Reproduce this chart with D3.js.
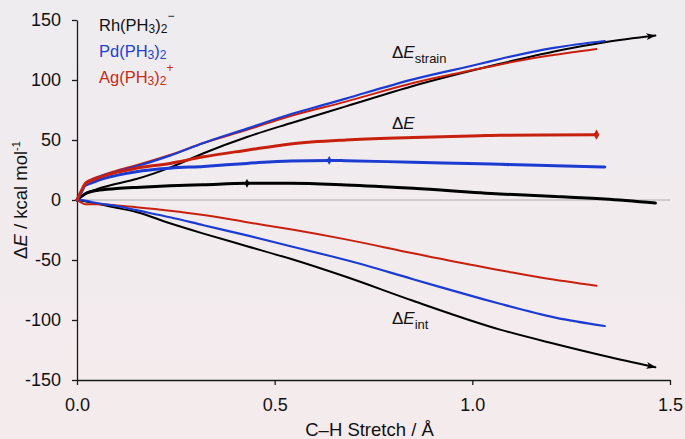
<html>
<head>
<title>C-H Stretch energy decomposition</title>
<script src="https://d3js.org/d3.v7.min.js"></script>
<style>
body { margin: 0; background: #f2ecee; }
text { font-family: "Liberation Sans", Arial, Helvetica, sans-serif; }
</style>
</head>
<body>
<div id="chart"></div>
<script>

// C-H stretch (Angstrom) and energies (kcal/mol)
var rhX      = [0, 0.02, 0.05, 0.1, 0.15, 0.235, 0.32, 0.43, 0.54, 0.68, 0.85, 1.07, 1.21, 1.335, 1.463];
var rhStrain = [0, 5, 9, 13.5, 17.5, 27, 39, 52.5, 64, 78, 95, 113.5, 124, 131.5, 137];
var rhTotal  = [0, 5, 8, 9.5, 10.5, 11.8, 12.7, 13.9, 13.9, 12.5, 9.7, 5, 3, 0.8, -2.5];
var rhInt    = [0, -1, -3, -6.5, -10, -19.4, -28, -38.5, -49, -64, -84, -108, -120, -130, -139.4];

var pdX      = [0, 0.01, 0.02, 0.035, 0.05, 0.1, 0.15, 0.235, 0.32, 0.43, 0.54, 0.638, 0.68, 0.85, 1.02, 1.07, 1.21, 1.335];
var pdStrain = [0, 6, 13, 16, 18.5, 23.5, 28, 37, 47.5, 59.5, 71.5, 80.5, 84.5, 100.5, 113.5, 117.5, 127, 132.5];
var pdTotal  = [0, 6, 12, 14, 16, 20.5, 23.6, 26.5, 28, 30.5, 32.6, 33, 32.8, 31.4, 30.2, 29.7, 28.5, 27.5];
var pdInt    = [0, 0, -0.5, -1.5, -2.5, -5, -8.5, -14.4, -21, -29.5, -38.5, -46.5, -50, -66, -82, -86.5, -98, -105];

var agX      = [0, 0.01, 0.02, 0.035, 0.05, 0.1, 0.15, 0.235, 0.32, 0.43, 0.54, 0.68, 0.85, 1.02, 1.07, 1.18, 1.314];
var agStrain = [0, 7, 14, 17, 19, 24.5, 29, 37.5, 47.5, 58.5, 70, 82, 97.5, 109.5, 113, 119.5, 125.8];
var agTotal  = [0, 7, 13, 16, 18, 23, 26.5, 30.5, 36, 41.5, 46.7, 50, 52, 53.6, 54, 54.2, 54.4];
var agInt    = [0, -2, -3.5, -3.5, -3.5, -4.5, -6, -8.9, -12.5, -18.5, -24.4, -32.8, -44.4, -55.5, -58.5, -65, -71.4];

// diamond markers on the total energy curves [x, y]
var rhMark = [0.43, 13.9];
var pdMark = [0.638, 33];
var agMark = [1.314, 54.4];

var xTicks = [0, 0.5, 1.0, 1.5];
var yTicks = [-150, -100, -50, 0, 50, 100, 150];

var black = "#000000", blue = "#1c3bd0", red = "#c8200e";

var width = 685, height = 439;

var svg = d3.select("#chart").append("svg")
  .attr("width", width)
  .attr("height", height);

var defs = svg.append("defs");
var grad = defs.append("linearGradient")
  .attr("id", "bg")
  .attr("x1", 0).attr("y1", 0).attr("x2", 0).attr("y2", 1);
grad.append("stop").attr("offset", "0%").attr("stop-color", "#eeecef");
grad.append("stop").attr("offset", "100%").attr("stop-color", "#f5ebed");

defs.append("marker")
  .attr("id", "arrow")
  .attr("viewBox", "0 -5 10 10")
  .attr("refX", 9)
  .attr("refY", 0)
  .attr("markerWidth", 5)
  .attr("markerHeight", 5)
  .attr("orient", "auto")
  .append("path")
  .attr("d", "M0,-3.5L10,0L0,3.5L2.5,0Z")
  .attr("fill", black);

svg.append("rect")
  .attr("width", width)
  .attr("height", height)
  .attr("fill", "url(#bg)");

var x = d3.scaleLinear().domain([0, 1.5]).range([77, 670]);
var y = d3.scaleLinear().domain([-150, 150]).range([380, 20]);

// zero line
svg.append("line")
  .attr("x1", x(0)).attr("x2", x(1.5))
  .attr("y1", y(0)).attr("y2", y(0))
  .attr("stroke", "#b0acae")
  .attr("stroke-width", 1);

var xAxis = svg.append("g")
  .attr("transform", "translate(0," + y(-150) + ")")
  .call(d3.axisBottom(x).tickValues(xTicks).tickFormat(d3.format(".1f"))
    .tickSize(5).tickSizeOuter(0).tickPadding(13));

var yAxis = svg.append("g")
  .attr("transform", "translate(" + x(0) + ",0)")
  .call(d3.axisLeft(y).tickValues(yTicks).tickFormat(function(d) { return String(d); })
    .tickSize(5).tickSizeOuter(0).tickPadding(11));

[xAxis, yAxis].forEach(function(g) {
  g.selectAll("path, line").attr("stroke", "#1a1a1a").attr("stroke-width", 1.3);
  g.selectAll("text")
    .attr("fill", "#111")
    .style("font-size", "18px")
    .style("font-family", "'Liberation Sans', Arial, sans-serif");
});

var line = d3.line()
  .x(function(d) { return x(d[0]); })
  .y(function(d) { return y(d[1]); })
  .curve(d3.curveMonotoneX);

function pts(xs, ys) {
  return xs.map(function(v, i) { return [v, ys[i]]; });
}

var series = [
  {x: rhX, v: rhInt,    color: black, w: 2, arrow: true},
  {x: rhX, v: rhStrain, color: black, w: 2, arrow: true},
  {x: rhX, v: rhTotal,  color: black, w: 3, arrow: false},
  {x: agX, v: agInt,    color: red,   w: 2, arrow: false},
  {x: agX, v: agStrain, color: red,   w: 2, arrow: false},
  {x: pdX, v: pdInt,    color: blue,  w: 2.2, arrow: false},
  {x: pdX, v: pdStrain, color: blue,  w: 2.2, arrow: false},
  {x: pdX, v: pdTotal,  color: blue,  w: 3, arrow: false},
  {x: agX, v: agTotal,  color: red,   w: 3, arrow: false}
];

series.forEach(function(s) {
  var p = svg.append("path")
    .attr("d", line(pts(s.x, s.v)))
    .attr("fill", "none")
    .attr("stroke", s.color)
    .attr("stroke-width", s.w)
    .attr("stroke-linejoin", "round")
    .attr("stroke-linecap", "round");
  if (s.arrow) p.attr("marker-end", "url(#arrow)");
});

[[rhMark, black, 22], [pdMark, blue, 22], [agMark, red, 30]].forEach(function(m) {
  svg.append("path")
    .attr("d", d3.symbol().type(d3.symbolDiamond).size(m[2])())
    .attr("transform", "translate(" + x(m[0][0]) + "," + y(m[0][1]) + ")")
    .attr("fill", m[1]);
});

// legend
function formula(metal, charge, color, yy) {
  var t = svg.append("text")
    .attr("x", 99).attr("y", yy)
    .attr("fill", color)
    .style("font-size", "16.5px");
  t.append("tspan").text(metal + "(PH");
  t.append("tspan").text("3").style("font-size", "12px").attr("dy", 2);
  t.append("tspan").text(")").attr("dy", -2);
  t.append("tspan").text("2").style("font-size", "12px").attr("dy", 2);
  if (charge) t.append("tspan").text(charge).style("font-size", "12px").attr("dy", -13);
}
formula("Rh", "\u2212", "#111", 31);
formula("Pd", "", "#2141d4", 57);
formula("Ag", "+", "#c82a18", 83);

// curve labels
function deltaLabel(sub, xx, yy) {
  var t = svg.append("text")
    .attr("x", xx).attr("y", yy)
    .attr("fill", "#111")
    .style("font-size", "17px");
  t.append("tspan").text("\u0394");
  t.append("tspan").text("E").style("font-style", "italic");
  if (sub) t.append("tspan").text(sub).style("font-size", "13px").attr("dy", 5);
}
deltaLabel("strain", 392, 58);
deltaLabel("", 392, 129);
deltaLabel("int", 392, 324);

// axis titles
svg.append("text")
  .attr("x", x(0.75) - 4)
  .attr("y", 436)
  .attr("text-anchor", "middle")
  .attr("fill", "#111")
  .style("font-size", "18.5px")
  .text("C\u2013H Stretch / \u00c5");

var yt = svg.append("text")
  .attr("transform", "translate(27,200) rotate(-90)")
  .attr("text-anchor", "middle")
  .attr("fill", "#111")
  .style("font-size", "18.5px");
yt.append("tspan").text("\u0394");
yt.append("tspan").text("E").style("font-style", "italic");
yt.append("tspan").text(" / kcal mol");
yt.append("tspan").text("-1").style("font-size", "11px").attr("dy", -7);

</script>
</body>
</html>
